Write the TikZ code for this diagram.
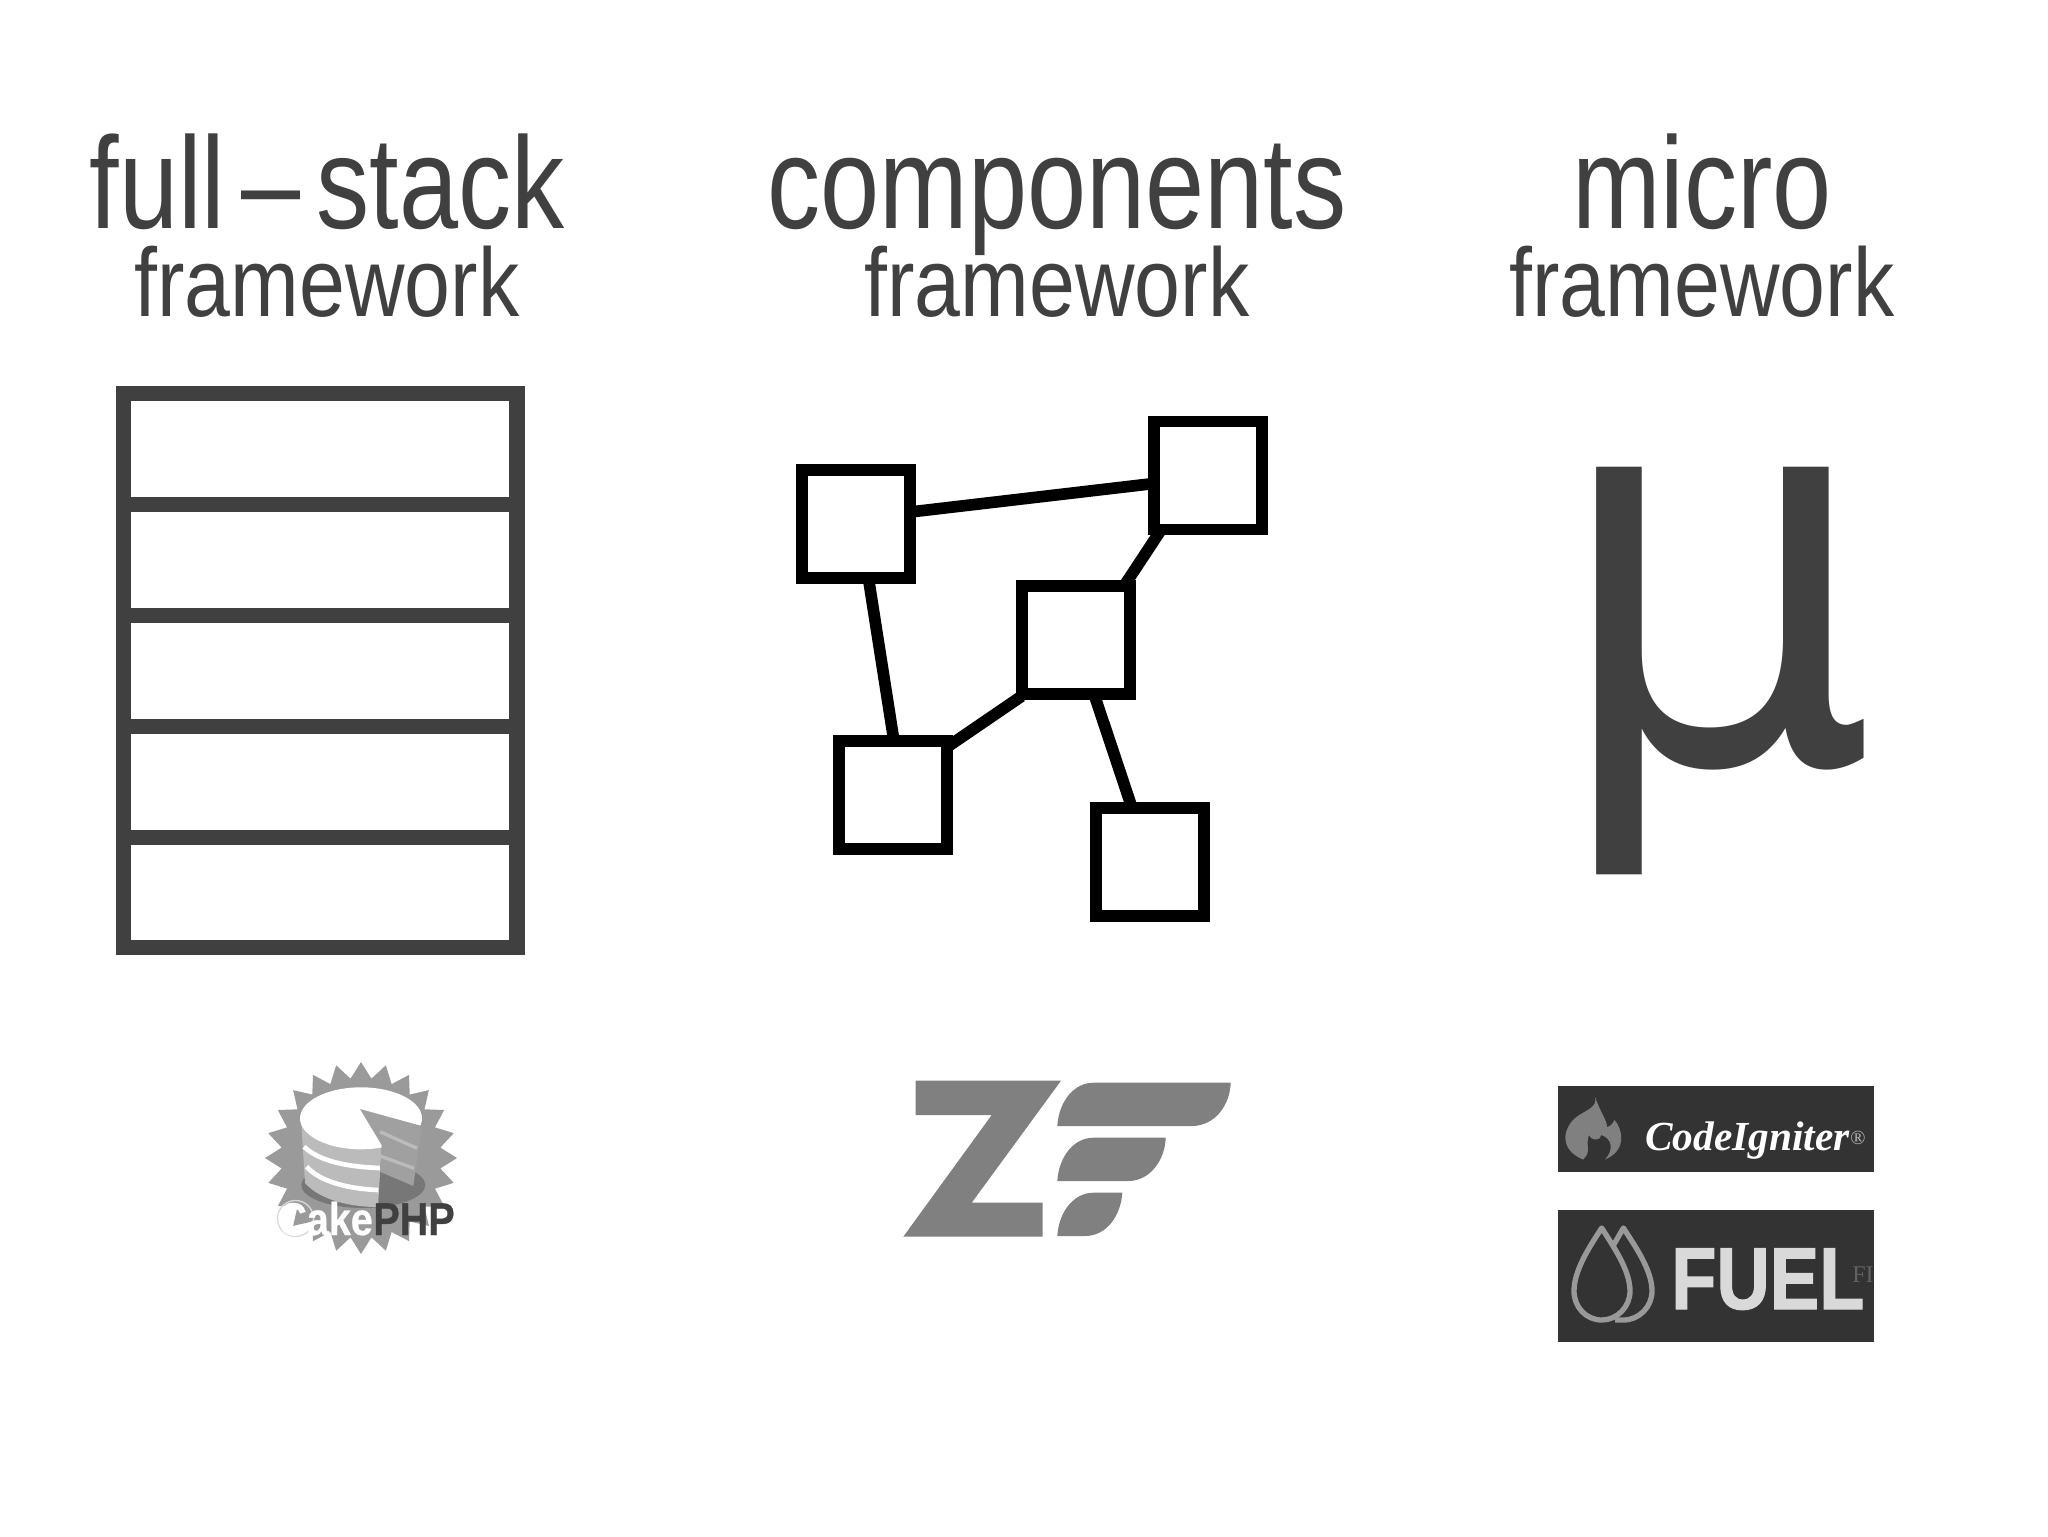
\documentclass[tikz,border=0pt]{standalone}
\usepackage{fontspec}
\usetikzlibrary{shapes.geometric}
\newfontfamily\titlefont[FakeStretch=0.813]{Liberation Sans}
\newfontfamily\subfont[FakeStretch=0.847]{Liberation Sans}
\newfontfamily\logofont[FakeStretch=0.86,FakeBold=0.6]{Liberation Sans Bold}
\newfontfamily\fuelfont[FakeStretch=0.84,FakeBold=1.2]{Liberation Sans Bold}
\newfontfamily\igniterfont{Liberation Serif}
\newfontfamily\mufont[FakeStretch=0.94]{DejaVu Sans}
\definecolor{titlegray}{HTML}{404040}
\definecolor{logogray}{HTML}{808080}
\definecolor{starcol}{HTML}{9A9A9A}
\definecolor{platecol}{HTML}{777777}
\definecolor{cakecol}{HTML}{BBBBBB}
\definecolor{slicecol}{HTML}{A0A0A0}
\definecolor{badgecol}{HTML}{333333}
\definecolor{dropcol}{HTML}{999999}
\tikzset{
	bigtitle/.style={anchor=base,inner sep=0pt,text=titlegray,font=\titlefont\fontsize{98}{98}\selectfont},
	subtitle/.style={anchor=base,inner sep=0pt,text=titlegray,font=\subfont\fontsize{73}{73}\selectfont},
	compbox/.style={draw=black,line width=8.75pt,minimum size=81.2pt,inner sep=0pt},
	complink/.style={draw=black,line width=8.75pt,shorten <=-5pt,shorten >=-5pt},
	stackline/.style={draw=titlegray,line width=11.8pt},
	dropline/.style={draw=dropcol,line width=4pt,line join=round},
	cakeword/.style={inner sep=0pt,anchor=base west,font=\logofont\fontsize{34.5}{34.5}\selectfont}
}
\begin{document}
\begin{tikzpicture}[x=0.75pt,y=0.75pt,yscale=-1,xscale=1]
	\useasboundingbox (0,0) rectangle (2048,1536);

	% Text Node
	\node[bigtitle] (fulltitle) at (327,228) {full\kern12pt–\kern12pt stack};
	\node[subtitle] (fullsub) at (327,316) {framework};
	% Text Node
	\node[bigtitle] (comptitle) at (1057,228) {components};
	\node[subtitle] (compsub) at (1057,316) {framework};
	% Text Node
	\node[bigtitle] (microtitle) at (1702,228) {micro};
	\node[subtitle] (microsub) at (1702,316) {framework};

	%Shape: Stack
	\draw[stackline] (123.4,393.5) rectangle (517.3,947.5);
	\foreach \ypos in {504.5,615.5,726.5,837.5}
		\draw[stackline] (123.4,\ypos) -- (517.3,\ypos);

	%Shape: Components
	\node[compbox] (compa) at (856,524) {};
	\node[compbox] (compb) at (1208,475.5) {};
	\node[compbox] (compc) at (1076,640) {};
	\node[compbox] (compd) at (893,795) {};
	\node[compbox] (compe) at (1150,862) {};
	\draw[complink] ([yshift=-9.5pt]compa.east) -- ([yshift=6.5pt]compb.west);
	\draw[complink] ([xshift=10pt]compa.south) -- (compd.north);
	\draw[complink] ([xshift=7pt]compb.south west) -- ([xshift=-6pt]compc.north east);
	\draw[complink] (compc.south west) -- ([yshift=6pt]compd.north east);
	\draw[complink] (compc) -- (compe);

	%Micro sign
	\node[inner sep=0pt,anchor=base,text=titlegray,font=\mufont\fontsize{405}{405}\selectfont] (microsign) at (1715,762) {μ};

	%Shape: Cake logo
	\node[star,star points=24,star point ratio=1.2,minimum size=144pt,inner sep=0pt,fill=starcol] (cakestar) at (361,1158) {};
	\fill[platecol] (363.3,1185) ellipse [x radius=62,y radius=23];
	\fill[cakecol] (301,1118) -- (305,1183) .. controls (320,1200) and (350,1207) .. (378,1207) -- (381.7,1145) -- cycle;
	\draw[white,line width=3.5pt] (304,1146.7) .. controls (320,1162) and (350,1167) .. (380,1168);
	\draw[white,line width=3.5pt] (306.7,1166.7) .. controls (320,1182) and (350,1189) .. (378.3,1190);
	\fill[white] (361,1118.3) ellipse [x radius=61,y radius=31];
	\fill[slicecol] (360,1109) -- (421.7,1126) -- (413.3,1186) -- (380,1171.7) -- (381.7,1145) -- cycle;
	\draw[cakecol,line width=2.5pt] (380,1131.7) -- (417,1148.3);
	\draw[cakecol,line width=2.5pt] (380,1156) -- (414,1168.3);
	\draw[black!15,line width=1pt] (295.5,1218.5) ellipse [x radius=18,y radius=18];
	\node[cakeword,text=white] (cakename) at (278,1235) {Cake};
	\node[cakeword,text=titlegray] (phpname) at (cakename.base east) {PHP};

	%Shape: Z logo
	\fill[logogray] (915.7,1080.7) -- (1061,1080.7) -- (971.7,1202.7) -- (1042.7,1202.7) -- (1042.7,1236.7) -- (903.3,1236.7) -- (991.7,1115) -- (915.7,1115) -- cycle;
	\fill[logogray] (1057.3,1126) .. controls (1059,1100) and (1075,1082.7) .. (1093.3,1082.7) -- (1230.7,1082.7) .. controls (1230,1105) and (1215,1126) .. (1191.7,1126) -- cycle;
	\fill[logogray] (1057.3,1181) .. controls (1059,1155) and (1075,1137.7) .. (1093.3,1137.7) -- (1165.7,1137.7) .. controls (1165,1160) and (1150,1181) .. (1128.3,1181) -- cycle;
	\fill[logogray] (1057.3,1236) .. controls (1059,1210) and (1075,1192.7) .. (1093.3,1192.7) -- (1122.3,1192.7) .. controls (1121,1215) and (1107,1236) .. (1085,1236) -- cycle;

	%Shape: Igniter badge
	\fill[badgecol] (1558,1086) rectangle (1874,1172);
	\fill[logogray] (1595,1096.7) .. controls (1600,1112) and (1607,1120) .. (1607,1127) .. controls (1612,1126) and (1613,1122) .. (1614.5,1120) .. controls (1622,1128) and (1628,1150) .. (1605,1159.5) .. controls (1614,1150) and (1612,1138) .. (1601,1135) .. controls (1600,1142) and (1590,1140) .. (1589,1135) .. controls (1585,1145) and (1592,1152) .. (1583,1159.5) .. controls (1560,1150) and (1562,1130) .. (1575,1118) .. controls (1585,1110) and (1598,1108) .. (1595,1096.7) -- cycle;
	\node[inner sep=0pt,anchor=base west,text=white,font=\igniterfont\bfseries\itshape\fontsize{31}{31}\selectfont] (ignitername) at (1645,1150) {CodeIgniter};
	\node[inner sep=0pt,text=cakecol,font=\igniterfont\fontsize{15}{15}\selectfont] (ignitermark) at (1858,1138) {®};

	%Shape: Fuel badge
	\fill[badgecol] (1558,1210) rectangle (1874,1342);
	\draw[dropline] (1601.7,1228) .. controls (1590,1246) and (1574,1270) .. (1574,1291) .. controls (1574,1307) and (1586,1320) .. (1601.7,1320) .. controls (1617,1320) and (1630,1307) .. (1630,1291) .. controls (1630,1270) and (1613,1246) .. (1601.7,1228) -- cycle;
	\draw[dropline] (1613.5,1245) -- (1623.4,1228) .. controls (1635,1246) and (1652,1270) .. (1652,1291) .. controls (1652,1307) and (1639,1320) .. (1623.4,1320) -- (1615,1320);
	\node[inner sep=0pt,anchor=base west,text=gray!30,font=\fuelfont\fontsize{66}{66}\selectfont] (fuelname) at (1671,1309) {FUEL};
	\node[inner sep=0pt,anchor=base west,text=black!62,font=\igniterfont\fontsize{18}{18}\selectfont] (fuelmark) at (1852,1282) {FI};
\end{tikzpicture}
\end{document}
